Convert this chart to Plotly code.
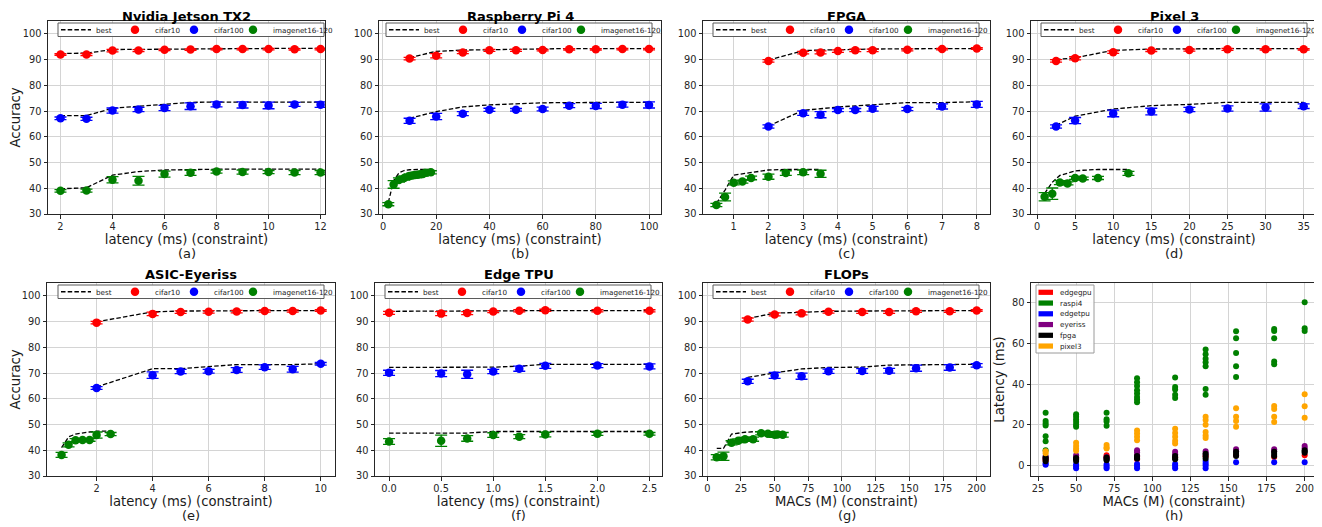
import plotly.graph_objects as go

# The page body adds an 8px margin, so the figure is drawn 8px smaller and all
# reference pixel positions are converted with that offset.
OFF = 8
W, H = 1322 - OFF, 527 - OFF
RED, BLUE, GREEN = '#ff0000', '#0000ff', '#008000'
FONT = 'DejaVu Sans'

# ---------------- data ----------------
titles = ['Nvidia Jetson TX2', 'Raspberry Pi 4', 'FPGA', 'Pixel 3',
          'ASIC-Eyeriss', 'Edge TPU', 'FLOPs', '']
sublabels = ['(a)', '(b)', '(c)', '(d)', '(e)', '(f)', '(g)', '(h)']
xtitles = ['latency (ms) (constraint)'] * 6 + ['MACs (M) (constraint)'] * 2
series_names = ['cifar10', 'cifar100', 'imagenet16-120']

# (a) Nvidia Jetson TX2
a_x = [2, 3, 4, 5, 6, 7, 8, 9, 10, 11, 12]
a_c10 = [92.0, 92.0, 93.5, 93.5, 93.8, 93.9, 94.1, 94.1, 94.1, 94.0, 94.1]
a_c10_err = [0.3, 0.4, 0.5, 0.4, 0.3, 0.3, 0.3, 0.3, 0.3, 0.3, 0.3]
a_c100 = [67.2, 67.0, 70.2, 70.6, 71.2, 71.9, 72.6, 72.4, 72.2, 72.6, 72.5]
a_c100_err = [0.5, 0.6, 1.0, 0.8, 1.0, 1.3, 1.0, 1.2, 1.3, 0.8, 1.1]
a_in = [39.0, 39.1, 43.3, 42.9, 45.5, 46.0, 46.5, 46.3, 46.3, 46.1, 46.1]
a_in_err = [0.5, 0.6, 1.2, 1.7, 1.2, 1.0, 0.6, 0.8, 0.6, 0.8, 0.8]
a_best_c10 = [92.4, 92.5, 93.9, 94.0, 94.2, 94.3, 94.4, 94.4, 94.4, 94.4, 94.4]
a_best_c100 = [68.2, 68.2, 71.1, 71.9, 72.6, 73.4, 73.5, 73.5, 73.5, 73.5, 73.5]
a_best_in = [39.8, 40.2, 45.1, 46.5, 47.1, 47.3, 47.4, 47.4, 47.4, 47.4, 47.4]

# (b) Raspberry Pi 4
b_x = [10, 20, 30, 40, 50, 60, 70, 80, 90, 100]
b_c10 = [90.4, 91.5, 92.8, 93.6, 93.6, 93.7, 94.0, 94.0, 94.1, 94.1]
b_c10_err = [0.5, 0.8, 0.5, 0.4, 0.4, 0.3, 0.3, 0.3, 0.3, 0.3]
b_c100 = [66.2, 67.9, 69.0, 70.5, 70.5, 70.8, 72.1, 72.0, 72.5, 72.4]
b_c100_err = [1.0, 1.2, 0.8, 0.6, 0.5, 0.7, 0.8, 1.0, 1.0, 1.2]
b_best_c10 = [90.8, 93.2, 93.7, 93.9, 94.1, 94.2, 94.3, 94.3, 94.3, 94.3]
b_best_c100 = [67.2, 69.8, 71.6, 72.4, 72.8, 73.2, 73.3, 73.4, 73.4, 73.4]
b_in_x = [2, 4, 6, 8, 10, 11, 12, 13, 14, 15, 16, 18]
b_in = [33.8, 41.5, 43.2, 44.0, 44.8, 45.0, 45.2, 45.3, 45.4, 45.5, 46.0, 46.2]
b_in_err = [0.6, 1.5, 0.8, 0.8, 0.8, 0.9, 0.7, 0.9, 0.8, 0.8, 0.7, 0.6]
b_best_in = [34.5, 43.0, 46.0, 46.9, 47.2, 47.3, 47.3, 47.3, 47.3, 47.3, 47.3, 47.3]

# (c) FPGA
c_x = [2, 3, 3.5, 4, 4.5, 5, 6, 7, 8]
c_c10 = [89.5, 92.7, 92.8, 93.3, 93.6, 93.6, 93.8, 94.1, 94.3]
c_c10_err = [0.5, 0.5, 0.6, 0.5, 0.5, 0.5, 0.4, 0.3, 0.3]
c_c100 = [64.0, 69.2, 68.6, 70.4, 70.4, 70.9, 70.8, 71.8, 72.6]
c_c100_err = [0.6, 0.9, 1.2, 0.6, 0.6, 0.9, 0.6, 1.0, 1.2]
c_best_c10 = [89.8, 93.5, 93.7, 93.9, 94.0, 94.1, 94.2, 94.3, 94.3]
c_best_c100 = [64.2, 70.3, 70.9, 71.6, 72.0, 72.4, 73.3, 73.3, 73.6]
c_in_x = [0.5, 0.75, 1, 1.25, 1.5, 2, 2.5, 3, 3.5]
c_in = [33.5, 36.6, 42.1, 42.6, 44.0, 44.5, 45.9, 46.2, 45.6]
c_in_err = [0.6, 1.5, 0.8, 0.6, 0.7, 1.0, 0.9, 0.9, 1.4]
c_best_in = [34.1, 39.3, 45.1, 45.6, 46.1, 47.1, 47.3, 47.3, 47.3]

# (d) Pixel 3
d_x = [2.5, 5, 10, 15, 20, 25, 30, 35]
d_c10 = [89.5, 90.5, 92.9, 93.5, 93.7, 94.0, 94.0, 94.0]
d_c10_err = [0.5, 0.6, 0.5, 0.4, 0.4, 0.4, 0.3, 0.3]
d_c100 = [64.0, 66.3, 69.1, 69.8, 70.6, 71.0, 71.4, 71.9]
d_c100_err = [0.6, 1.2, 1.3, 1.3, 0.8, 1.0, 1.4, 0.9]
d_best_c10 = [90.0, 90.7, 93.6, 94.1, 94.2, 94.3, 94.3, 94.3]
d_best_c100 = [64.5, 68.0, 70.8, 72.1, 72.6, 73.4, 73.4, 73.4]
d_in_x = [1, 2, 3, 4, 5, 6, 8, 12]
d_in = [36.7, 37.9, 42.2, 41.9, 44.0, 43.8, 44.0, 45.8]
d_in_err = [1.6, 2.2, 0.8, 0.6, 0.6, 0.5, 0.6, 0.8]
d_best_in = [38.0, 42.3, 45.0, 45.8, 46.7, 47.0, 47.3, 47.3]

# (e) ASIC-Eyeriss
e_x = [2, 4, 5, 6, 7, 8, 9, 10]
e_c10 = [89.6, 93.0, 93.7, 93.8, 93.9, 94.1, 94.1, 94.3]
e_c10_err = [0.5, 0.7, 0.5, 0.5, 0.5, 0.4, 0.4, 0.3]
e_c100 = [64.2, 69.2, 70.6, 70.7, 71.2, 72.3, 71.5, 73.6]
e_c100_err = [0.5, 1.3, 0.8, 0.7, 0.9, 0.9, 1.1, 0.5]
e_best_c10 = [89.9, 93.8, 94.1, 94.2, 94.2, 94.3, 94.3, 94.3]
e_best_c100 = [64.6, 71.7, 71.7, 72.4, 73.3, 73.3, 73.3, 73.6]
e_in_x = [0.75, 1, 1.25, 1.5, 1.75, 2, 2.5]
e_in = [38.2, 42.1, 43.9, 44.0, 44.0, 45.9, 46.3]
e_in_err = [1.0, 0.8, 0.6, 0.5, 0.5, 1.2, 0.6]
e_best_in = [41.0, 45.2, 46.3, 46.8, 47.1, 47.4, 47.4]

# (f) Edge TPU
f_x = [0, 0.5, 0.75, 1.0, 1.25, 1.5, 2.0, 2.5]
f_c10 = [93.4, 93.1, 93.3, 93.9, 94.2, 94.4, 94.2, 94.2]
f_c10_err = [0.6, 0.8, 0.6, 0.4, 0.4, 0.4, 0.4, 0.4]
f_c100 = [70.1, 69.8, 69.5, 70.6, 71.7, 72.8, 72.9, 72.6]
f_c100_err = [1.0, 1.2, 1.6, 0.8, 1.0, 1.0, 0.8, 1.0]
f_in = [43.4, 43.7, 44.6, 45.9, 45.3, 46.1, 46.4, 46.4]
f_in_err = [1.1, 2.2, 1.1, 0.9, 0.8, 0.9, 0.6, 0.5]
f_best_c10 = [94.0, 94.0, 94.1, 94.1, 94.2, 94.3, 94.3, 94.3]
f_best_c100 = [72.2, 72.2, 72.2, 72.3, 72.7, 73.4, 73.4, 73.4]
f_best_in = [46.7, 46.7, 46.7, 47.3, 47.3, 47.3, 47.3, 47.3]

# (g) FLOPs
g_x = [30, 50, 70, 90, 115, 135, 155, 180, 200]
g_c10 = [90.8, 92.8, 93.2, 93.8, 93.7, 93.7, 94.0, 94.0, 94.3]
g_c10_err = [0.6, 0.6, 0.6, 0.5, 0.5, 0.5, 0.4, 0.4, 0.3]
g_c100 = [66.8, 69.1, 68.8, 70.7, 70.8, 70.9, 71.9, 72.2, 73.0]
g_c100_err = [0.8, 1.2, 1.2, 0.8, 0.9, 0.9, 1.2, 1.1, 0.7]
g_best_c10 = [91.2, 93.3, 93.6, 94.0, 94.1, 94.2, 94.3, 94.3, 94.3]
g_best_c100 = [68.3, 70.1, 71.6, 72.2, 72.3, 73.1, 73.2, 73.2, 73.4]
g_in_x = [7, 12, 18, 23, 28, 34, 40, 45, 50, 52, 56]
g_in = [37.3, 37.7, 42.9, 43.7, 44.3, 44.3, 46.6, 46.4, 46.0, 46.1, 46.0]
g_in_err = [1.0, 1.6, 0.8, 0.7, 0.7, 0.8, 0.6, 0.7, 1.0, 0.9, 0.9]
g_best_in = [40.7, 40.7, 46.3, 46.8, 47.0, 47.2, 47.3, 47.3, 47.3, 47.3, 47.3]

# (h) latency vs MACs per device
h_devices = ['edgegpu', 'raspi4', 'edgetpu', 'eyeriss', 'fpga', 'pixel3']
h_colors = ['red', 'green', 'blue', 'purple', 'black', 'orange']
h_edgegpu_x = [30, 30, 50, 70, 70, 90, 90, 115, 135, 155, 180, 200]
h_edgegpu_y = [3.5, 2.5, 3.5, 5.0, 4.0, 4.5, 3.0, 4.0, 4.5, 5.0, 4.2, 5.0]
h_raspi4_x = [30] * 7 + [50] * 6 + [70] * 4 + [90] * 8 + [115] * 5 + [135] * 7 + [155] * 5 + [180] * 5 + [200] * 3
h_raspi4_y = [25.9, 21.9, 20.6, 19.6, 14.4, 11.9, 7.5,
              25.2, 23.9, 22.6, 21.3, 20.0, 19.0,
              25.9, 22.7, 21.6, 19.5,
              42.9, 40.9, 39.0, 37.0, 35.4, 33.7, 32.4, 31.1,
              43.2, 38.6, 37.3, 34.7, 33.1,
              57.0, 54.7, 52.4, 50.7, 48.8, 37.6, 34.7,
              66.0, 62.5, 55.3, 48.8, 43.5,
              67.1, 66.1, 62.5, 51.1, 49.8,
              80.2, 67.4, 66.1]
h_edgetpu_x = [30, 30, 50, 50, 50, 70, 70, 70, 90, 90, 90, 115, 115, 115, 135, 135, 135, 135, 155, 180, 200]
h_edgetpu_y = [1.0, 0.3, 0.5, -0.5, -1.4, 0.5, -0.5, -1.4, 0.7, -0.3, -1.4, 0.7, -0.3, -1.4,
               2.2, 1.0, 0.0, -1.4, 1.5, 1.5, 1.5]
h_eyeriss_x = [30, 30, 50, 50, 70, 70, 90, 90, 90, 115, 115, 135, 135, 155, 155, 180, 180, 200, 200]
h_eyeriss_y = [4.5, 3.5, 5.0, 4.0, 4.2, 3.5, 7.5, 6.5, 5.0, 6.7, 5.5, 7.0, 5.8, 8.0, 7.0, 8.0, 7.0, 9.6, 8.5]
h_fpga_x = [30, 30, 30, 50, 50, 50, 70, 70, 70, 90, 90, 90, 115, 115, 115, 135, 135, 135, 155, 155, 155,
            180, 180, 180, 200, 200, 200]
h_fpga_y = [4.0, 3.0, 2.0, 3.6, 3.0, 2.2, 3.9, 3.0, 2.5, 4.6, 3.8, 3.4, 4.6, 3.8, 3.0, 5.7, 4.6, 3.4,
            6.7, 5.6, 4.6, 6.7, 5.6, 4.6, 7.5, 6.8, 6.2]
h_pixel3_x = [30] * 2 + [50] * 4 + [70] * 3 + [90] * 4 + [115] * 5 + [135] * 6 + [155] * 4 + [180] * 4 + [200] * 3
h_pixel3_y = [7.0, 6.0,
              11.1, 9.5, 8.2, 7.2,
              10.0, 8.8, 8.3,
              17.2, 15.7, 14.1, 12.4,
              18.0, 16.0, 14.1, 12.1, 10.8,
              23.9, 22.3, 20.0, 16.4, 14.7, 13.5,
              28.1, 23.9, 21.9, 19.0,
              29.2, 27.8, 23.9, 21.4,
              35.0, 29.1, 23.4]

# tick labels / ranges per panel
x_ticks = [[2, 4, 6, 8, 10, 12], [0, 20, 40, 60, 80, 100], [1, 2, 3, 4, 5, 6, 7, 8],
           [0, 5, 10, 15, 20, 25, 30, 35], [2, 4, 6, 8, 10], [0, 0.5, 1.0, 1.5, 2.0, 2.5],
           [0, 25, 50, 75, 100, 125, 150, 175, 200], [25, 50, 75, 100, 125, 150, 175, 200]]
x_tick_text = [None, None, None, None, None, ['0.0', '0.5', '1.0', '1.5', '2.0', '2.5'], None, None]
x_ranges = [[1.52, 12.17], [-1.5, 104.5], [0.115, 8.38], [-0.79, 36.75],
            [0.23, 10.51], [-0.135, 2.62], [-3.2, 209.9], [20.4, 208.1]]
acc_ticks = [30, 40, 50, 60, 70, 80, 90, 100]
lat_ticks = [0, 20, 40, 60, 80]

# ---------------- layout (pixel boxes of the plot areas, page coordinates) ----------------
boxes = [(48, 325, 21, 214), (379, 661, 21, 214), (703, 990, 21, 214), (1031, 1317, 21, 214),
         (47, 335, 283, 476), (375, 662, 283, 476), (703, 990, 283, 476), (1031, 1317, 283, 476)]
legend_left = [58, 386, 713, 1041, 58, 385, 713]   # left edge of each legend frame (px)
LEG_W, LEG_H = 266, 13.5
LEG_ENTRY = 14                                    # legend entry width (px)

fig = go.Figure()


def px(xp, yp):
    """page pixel -> paper fraction"""
    return (xp - OFF) / W, 1 - (yp - OFF) / H


def axname(i, a):
    return a if i == 1 else f'{a}{i}'


def add_acc_panel(i, xs, c10, c10e, c100, c100e, in_x, inn, ine, b10, b100, bin_):
    xa, ya = axname(i, 'x'), axname(i, 'y')
    lg = axname(i, 'legend')
    for k, (bx, by) in enumerate([(xs, b10), (xs, b100), (in_x, bin_)]):
        fig.add_trace(go.Scatter(x=bx, y=by, mode='lines', name='best',
                                 line=dict(color='black', dash='4.5px,2.2px', width=1.3),
                                 showlegend=(k == 0), legend=lg, xaxis=xa, yaxis=ya))
    for name, col, sx, sy, se in [(series_names[0], RED, xs, c10, c10e),
                                  (series_names[1], BLUE, xs, c100, c100e),
                                  (series_names[2], GREEN, in_x, inn, ine)]:
        fig.add_trace(go.Scatter(x=sx, y=sy, mode='markers', name=name,
                                 marker=dict(color=col, size=8.5),
                                 error_y=dict(type='data', array=se, color=col, thickness=1.3, width=6),
                                 legend=lg, xaxis=xa, yaxis=ya))
    # empty spacer entry so the last legend label has room
    fig.add_trace(go.Scatter(x=[None], y=[None], mode='lines', name=' ',
                             line=dict(width=0, color='rgba(0,0,0,0)'), hoverinfo='skip',
                             legend=lg, xaxis=xa, yaxis=ya))


add_acc_panel(1, a_x, a_c10, a_c10_err, a_c100, a_c100_err, a_x, a_in, a_in_err, a_best_c10, a_best_c100, a_best_in)
add_acc_panel(2, b_x, b_c10, b_c10_err, b_c100, b_c100_err, b_in_x, b_in, b_in_err, b_best_c10, b_best_c100, b_best_in)
add_acc_panel(3, c_x, c_c10, c_c10_err, c_c100, c_c100_err, c_in_x, c_in, c_in_err, c_best_c10, c_best_c100, c_best_in)
add_acc_panel(4, d_x, d_c10, d_c10_err, d_c100, d_c100_err, d_in_x, d_in, d_in_err, d_best_c10, d_best_c100, d_best_in)
add_acc_panel(5, e_x, e_c10, e_c10_err, e_c100, e_c100_err, e_in_x, e_in, e_in_err, e_best_c10, e_best_c100, e_best_in)
add_acc_panel(6, f_x, f_c10, f_c10_err, f_c100, f_c100_err, f_x, f_in, f_in_err, f_best_c10, f_best_c100, f_best_in)
add_acc_panel(7, g_x, g_c10, g_c10_err, g_c100, g_c100_err, g_in_x, g_in, g_in_err, g_best_c10, g_best_c100, g_best_in)

h_data = [(h_edgegpu_x, h_edgegpu_y), (h_raspi4_x, h_raspi4_y), (h_edgetpu_x, h_edgetpu_y),
          (h_eyeriss_x, h_eyeriss_y), (h_fpga_x, h_fpga_y), (h_pixel3_x, h_pixel3_y)]
for name, col, (hx, hy) in zip(h_devices, h_colors, h_data):
    fig.add_trace(go.Scatter(x=hx, y=hy, mode='markers', name=name, showlegend=False,
                             marker=dict(color=col, size=6), xaxis='x8', yaxis='y8'))

axis_common = dict(showline=True, linecolor='#262626', linewidth=1, mirror=True,
                   ticks='outside', ticklen=3.5, tickwidth=1, tickcolor='#262626',
                   showgrid=True, gridcolor='#d4d4d4', gridwidth=1, zeroline=False,
                   tickfont=dict(family=FONT, size=9.8, color='#262626'))

layout = dict(width=W, height=H, margin=dict(l=0, r=0, t=0, b=0, autoexpand=False),
              paper_bgcolor='white', plot_bgcolor='white',
              font=dict(family=FONT, color='#1a1a1a'), annotations=[], shapes=[])

for i in range(1, 9):
    l, r, t, b = boxes[i - 1]
    xl, yb = px(l, b)
    xr, yt = px(r, t)
    xa = dict(axis_common, domain=[xl, xr], range=x_ranges[i - 1], tickvals=x_ticks[i - 1],
              anchor=axname(i, 'y'),
              title=dict(text=xtitles[i - 1], font=dict(size=13.2, family=FONT), standoff=2))
    if x_tick_text[i - 1] is not None:
        xa['ticktext'] = x_tick_text[i - 1]
    if i < 8:
        ya = dict(axis_common, domain=[yb, yt], range=[30, 105], tickvals=acc_ticks, anchor=axname(i, 'x'))
        if i in (1, 5):
            ya['title'] = dict(text='Accuracy', font=dict(size=13.2, family=FONT), standoff=4)
    else:
        ya = dict(axis_common, domain=[yb, yt], range=[-5.2, 89.7], tickvals=lat_ticks, anchor='x8',
                  title=dict(text='Latency (ms)', font=dict(size=13.2, family=FONT), standoff=4))
    layout[axname(i, 'xaxis')] = xa
    layout[axname(i, 'yaxis')] = ya

    cx = (xl + xr) / 2
    if i < 8:
        fl = legend_left[i - 1]
        ft = t + 2
        x0, y0 = px(fl, ft)
        x1, y1 = px(fl + LEG_W, ft + LEG_H)
        layout['shapes'].append(dict(type='rect', xref='paper', yref='paper', x0=x0, x1=x1, y0=y1, y1=y0,
                                     fillcolor='rgba(255,255,255,0.92)', line=dict(color='#5a5a5a', width=1),
                                     layer='above'))
        lx, ly = px(fl - 2, ft + LEG_H / 2 - 14.5)
        layout[axname(i, 'legend')] = dict(
            orientation='h', x=lx, xanchor='left', y=ly, yanchor='top',
            bgcolor='rgba(0,0,0,0)', borderwidth=0, entrywidth=LEG_ENTRY, entrywidthmode='pixels',
            font=dict(size=7.2, family=FONT, color='#1a1a1a'), itemwidth=30, tracegroupgap=0)

    if titles[i - 1]:
        _, ty = px(0, max(t - 9, 16))
        layout['annotations'].append(dict(
            text='<b>' + titles[i - 1] + '</b>', x=cx, y=ty, xref='paper', yref='paper',
            xanchor='center', yanchor='middle', showarrow=False,
            font=dict(size=13, family=FONT, color='black')))
    _, sy = px(0, b + 39.5)
    layout['annotations'].append(dict(
        text=sublabels[i - 1], x=cx, y=sy, xref='paper', yref='paper',
        xanchor='center', yanchor='middle', showarrow=False,
        font=dict(size=13, family=FONT, color='#1a1a1a')))

# legend of panel (h): frame, colour patches and device names
hl, ht, hr, hb = 1036, 285, 1094, 353
x0, y0 = px(hl, ht)
x1, y1 = px(hr, hb)
layout['shapes'].append(dict(type='rect', xref='paper', yref='paper', x0=x0, x1=x1, y0=y1, y1=y0,
                             fillcolor='rgba(255,255,255,0.92)', line=dict(color='#9a9a9a', width=1),
                             layer='above'))
for k, (name, col) in enumerate(zip(h_devices, h_colors)):
    cy = 292.3 + k * 10.75
    px0, py0 = px(hl + 2.5, cy - 2.6)
    px1, py1 = px(hl + 17, cy + 2.6)
    layout['shapes'].append(dict(type='rect', xref='paper', yref='paper', x0=px0, x1=px1, y0=py1, y1=py0,
                                 fillcolor=col, line=dict(width=0), layer='above'))
    tx, ty = px(hl + 22, cy)
    layout['annotations'].append(dict(text=name, x=tx, y=ty, xref='paper', yref='paper',
                                      xanchor='left', yanchor='middle', showarrow=False,
                                      font=dict(size=7.2, family=FONT, color='#1a1a1a')))

fig.update_layout(**layout)
fig.write_html('out.html')
